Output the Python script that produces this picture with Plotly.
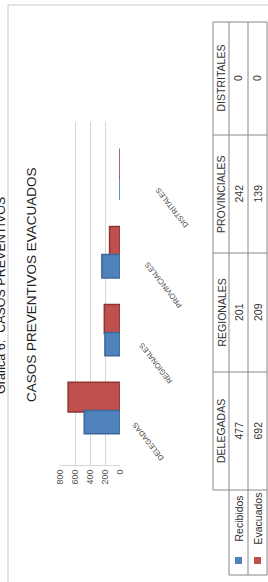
import plotly.graph_objects as go

# ---------------- data ----------------
categories = ["DELEGADAS", "REGIONALES", "PROVINCIALES", "DISTRITALES"]
recibidos = [477, 201, 242, 0]
evacuados = [692, 209, 139, 0]
series_names = ["Recibidos", "Evacuados"]
value_ticks = [0, 200, 400, 600, 800]
title_text = "CASOS PREVENTIVOS EVACUADOS"
caption_text = "Grafica 6:  CASOS PREVENTIVOS"

# ---------------- layout helpers ----------------
W, H = 268, 582
L, R, T, B = 60, 148, 122, 117
PW, PH = W - L - R, H - T - B


def px(x):
    return (x - L) / PW


def py(y):
    return (H - B - y) / PH


BLUE, BLUE_D = "#4F81BD", "#3B679C"
RED, RED_D = "#C0504D", "#8E3431"
FONT = "Liberation Sans, Arial, sans-serif"
TXT = "#333333"


def note(text, x, y, size, color=TXT, angle=-90, yref="paper", **kw):
    return dict(text=text, xref="paper", yref=yref, x=x, y=y, textangle=angle,
                showarrow=False, xanchor="center", yanchor="middle",
                font=dict(size=size, color=color), **kw)


fig = go.Figure()
fig.add_trace(go.Bar(
    y=categories, x=evacuados, orientation="h", name=series_names[1],
    marker=dict(color=RED, line=dict(color=RED_D, width=1.5)),
    width=0.38, offset=-0.02, showlegend=False,
))
fig.add_trace(go.Bar(
    y=categories, x=recibidos, orientation="h", name=series_names[0],
    marker=dict(color=BLUE, line=dict(color=BLUE_D, width=1.5)),
    width=0.30, offset=-0.30, showlegend=False,
))

fig.update_layout(
    width=W, height=H, barmode="overlay",
    margin=dict(l=L, r=R, t=T, b=B, pad=0),
    paper_bgcolor="white", plot_bgcolor="white",
    font=dict(family=FONT, color=TXT),
    xaxis=dict(range=[800, 0], tickvals=value_ticks, tickangle=-90,
               tickfont=dict(size=9, color="#555555"),
               showgrid=True, gridcolor="#d6d6d6", gridwidth=1,
               zeroline=False, showline=True, linecolor="#d6d6d6",
               ticks="", fixedrange=True),
    yaxis=dict(type="category", categoryorder="array", categoryarray=categories,
               range=[-0.7, 3.7], showticklabels=False, showgrid=False,
               zeroline=False, showline=False, ticks="", fixedrange=True),
)

shapes = []
annotations = []

# outer frame
shapes.append(dict(type="rect", xref="paper", yref="paper",
                   x0=px(8), y0=py(5), x1=px(280), y1=py(600),
                   line=dict(color="#c8c8c8", width=1)))

# caption and title (rotated)
annotations.append(note(caption_text, px(1), py(296), 12.5, "#222222"))
annotations.append(note(title_text, px(31), py(285), 13.5, "#222222"))

# category labels (diagonal)
for i, cat in enumerate(categories):
    annotations.append(note(cat, px(148 + 8 * i), cat, 7.5, "#444444",
                            angle=-128, yref="y", yshift=-31))

# ---------------- data table ----------------
LINE = dict(color="#888888", width=1)
col_x = [213, 229, 248, 267]          # header | Recibidos | Evacuados | edge
row_y = [22, 135, 253, 372, 490, 575]  # DISTRITALES .. DELEGADAS .. legend
shapes.append(dict(type="line", xref="paper", yref="paper",
                   x0=px(col_x[0]), y0=py(row_y[0]), x1=px(col_x[0]), y1=py(row_y[4]), line=LINE))
for cx in col_x[1:]:
    shapes.append(dict(type="line", xref="paper", yref="paper",
                       x0=px(cx), y0=py(row_y[0]), x1=px(cx), y1=py(row_y[5]), line=LINE))
for j, ry in enumerate(row_y):
    x0 = col_x[1] if j == len(row_y) - 1 else col_x[0]
    shapes.append(dict(type="line", xref="paper", yref="paper",
                       x0=px(x0), y0=py(ry), x1=px(col_x[3]), y1=py(ry), line=LINE))

n = len(categories)
for i, cat in enumerate(categories):
    top = row_y[n - 1 - i]
    bot = row_y[n - i]
    yc = py((top + bot) / 2)
    annotations.append(note(cat, px(221), yc, 10.5))
    annotations.append(note(str(recibidos[i]), px(238.5), yc, 10.5))
    annotations.append(note(str(evacuados[i]), px(257.5), yc, 10.5))

for name, col, xc in [(series_names[0], BLUE, 238.5), (series_names[1], RED, 257.5)]:
    shapes.append(dict(type="rect", xref="paper", yref="paper",
                       x0=px(xc - 3.5), x1=px(xc + 3.5), y0=py(557), y1=py(564),
                       fillcolor=col, line=dict(width=0)))
    annotations.append(note(name, px(xc), py(519), 10.5))

fig.update_layout(shapes=shapes, annotations=annotations)
fig.write_html(
    "out.html",
    config={"displayModeBar": False, "staticPlot": True},
    post_script="document.body.style.margin='0';document.body.style.overflow='hidden';",
)
